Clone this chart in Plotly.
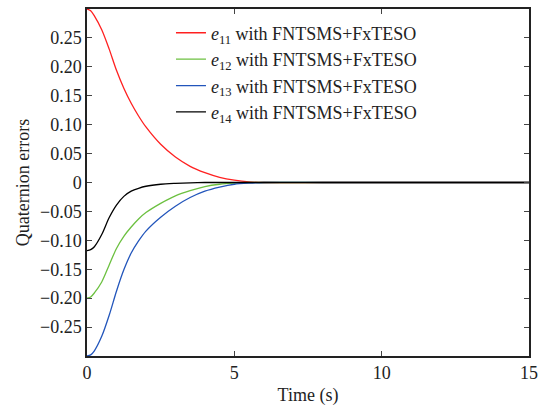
import plotly.graph_objects as go

t = [0, 0.125, 0.25, 0.5, 0.75, 1.0, 1.25, 1.5, 1.75, 2.0, 2.5, 3.0, 3.5, 4.0, 4.5, 5.0, 5.5, 6.0, 8.0, 10.0, 15.0]
e11 = [0.300, 0.297, 0.288, 0.264, 0.231, 0.194, 0.163, 0.137, 0.115, 0.096, 0.066, 0.044, 0.028, 0.017, 0.009, 0.004, 0.001, 0.0, 0.0, 0.0, 0.0]
e12 = [-0.200, -0.198, -0.191, -0.172, -0.143, -0.114, -0.093, -0.077, -0.063, -0.052, -0.036, -0.023, -0.014, -0.007, -0.003, -0.001, 0.0, 0.0, 0.0, 0.0, 0.0]
e13 = [-0.300, -0.298, -0.291, -0.266, -0.230, -0.188, -0.151, -0.122, -0.101, -0.084, -0.060, -0.041, -0.026, -0.015, -0.008, -0.003, -0.001, 0.0, 0.0, 0.0, 0.0]
e14 = [-0.118, -0.116, -0.111, -0.090, -0.061, -0.039, -0.024, -0.015, -0.010, -0.0065, -0.003, -0.0015, -0.0005, 0.0, 0.0, 0.0, 0.0, 0.0, 0.0, 0.0, 0.0]

names = ["<i>e</i><sub>11</sub> with FNTSMS+FxTESO",
         "<i>e</i><sub>12</sub> with FNTSMS+FxTESO",
         "<i>e</i><sub>13</sub> with FNTSMS+FxTESO",
         "<i>e</i><sub>14</sub> with FNTSMS+FxTESO"]
colors = ["#ff2020", "#6cc040", "#2255bb", "#000000"]

ytickvals = [0.25, 0.20, 0.15, 0.10, 0.05, 0, -0.05, -0.10, -0.15, -0.20, -0.25]
yticktext = ["0.25", "0.20", "0.15", "0.10", "0.05", "0", "\u22120.05", "\u22120.10", "\u22120.15", "\u22120.20", "\u22120.25"]
xtickvals = [0, 5, 10, 15]

fig = go.Figure()
for ys, nm, c in zip([e11, e12, e13, e14], names, colors):
    fig.add_trace(go.Scatter(x=t, y=ys, mode="lines", name=nm,
                             line=dict(color=c, width=1.3, shape="spline", smoothing=0.8)))

font_family = "Liberation Serif"
fig.update_layout(
    width=547, height=409,
    margin=dict(l=87, r=18, t=7, b=52),
    paper_bgcolor="white", plot_bgcolor="white",
    font=dict(family=font_family, size=18, color="#222"),
    showlegend=True,
    legend=dict(x=0.19, y=0.984, xanchor="left", yanchor="top",
                bgcolor="rgba(0,0,0,0)", font=dict(size=18, family=font_family),
                tracegroupgap=0, itemwidth=30),
    xaxis=dict(range=[0, 15], tickvals=xtickvals, ticks="inside", ticklen=5,
               showline=True, linecolor="#222", linewidth=1.5, mirror="ticks",
               showgrid=False, zeroline=False,
               title=dict(text="Time (s)", font=dict(size=18), standoff=6)),
    yaxis=dict(range=[-0.3, 0.3], tickvals=ytickvals, ticktext=yticktext,
               ticks="inside", ticklen=5,
               showline=True, linecolor="#222", linewidth=1.5, mirror="ticks",
               showgrid=False, zeroline=False,
               title=dict(text="Quaternion errors", font=dict(size=18), standoff=6)),
)

fig.write_html("out.html")
